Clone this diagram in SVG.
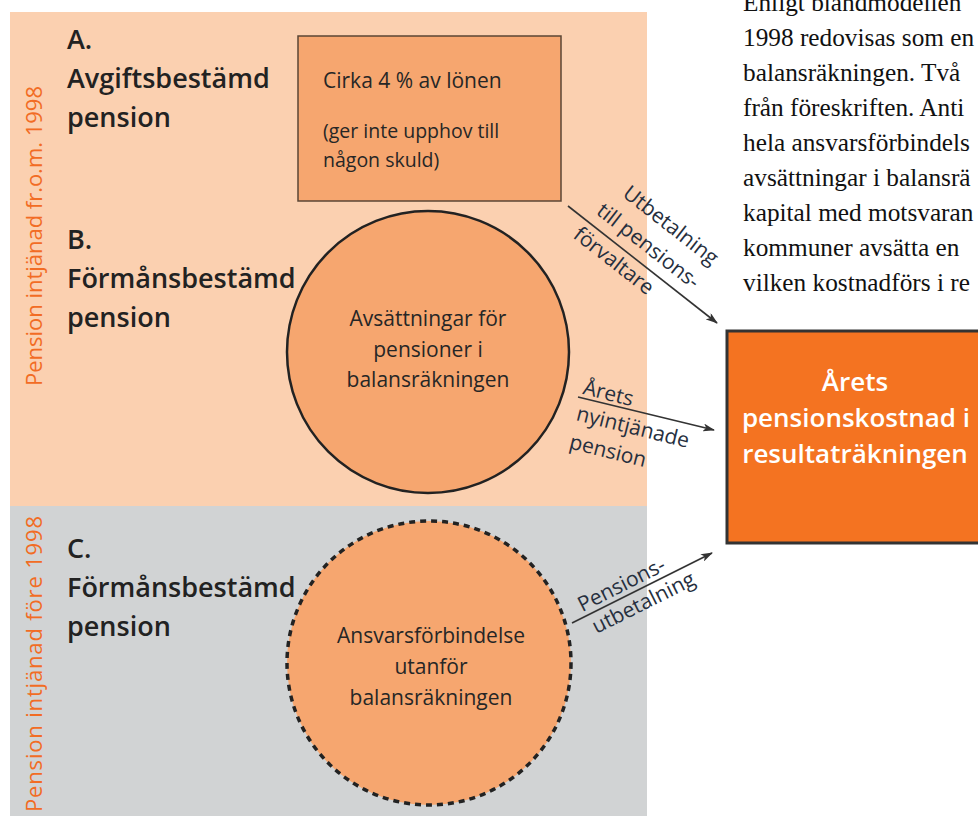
<svg xmlns="http://www.w3.org/2000/svg" width="978" height="816" viewBox="0 0 978 816">
<style>
.title{font-family:"Open Sans","Noto Sans",sans-serif;font-weight:600;font-size:27px;fill:#222}
.body{font-family:"Open Sans","Noto Sans",sans-serif;font-size:21px;fill:#262626}
.small{font-family:"Open Sans","Noto Sans",sans-serif;font-size:19.5px;fill:#262626}
.lab{font-family:"Open Sans","Noto Sans",sans-serif;font-size:21px;fill:#262f3e}
.vert{font-family:"Open Sans","Noto Sans",sans-serif;font-size:22px;font-weight:500;fill:#F26C24}
.serif{font-family:"Liberation Serif","Times New Roman",serif;font-size:25.3px;fill:#111}
.big{font-family:"Open Sans","Noto Sans",sans-serif;font-weight:600;font-size:26px;fill:#fff}
.conn{stroke:#333;stroke-width:1.6;fill:none}
</style>
<defs>
<marker id="ah" viewBox="0 0 12 8" refX="11" refY="4" markerWidth="12" markerHeight="8" markerUnits="userSpaceOnUse" orient="auto">
<path d="M0,0 L12,4 L0,8 L3,4 z" fill="#333"/>
</marker>
</defs>
<rect width="978" height="816" fill="#fff"/>
<g id="region-after">
<rect x="10" y="12" width="637" height="494" fill="#FBD0B0"/>
<text class="vert" transform="translate(42,236) rotate(-90)" text-anchor="middle" textLength="300">Pension intjänad fr.o.m. 1998</text>
</g>
<g id="region-before">
<rect x="10" y="506" width="637" height="310" fill="#D1D3D4"/>
<text class="vert" transform="translate(42,664) rotate(-90)" text-anchor="middle" textLength="296">Pension intjänad före 1998</text>
</g>
<g id="para">
<text class="serif" x="743">
<tspan x="743" y="11">Enligt blandmodellen</tspan>
<tspan x="743" y="46">1998 redovisas som en</tspan>
<tspan x="743" y="81">balansräkningen. Två</tspan>
<tspan x="743" y="116">från föreskriften. Anti</tspan>
<tspan x="743" y="151">hela ansvarsförbindels</tspan>
<tspan x="743" y="186">avsättningar i balansrä</tspan>
<tspan x="743" y="221">kapital med motsvaran</tspan>
<tspan x="743" y="256">kommuner avsätta en</tspan>
<tspan x="743" y="291">vilken kostnadförs i re</tspan>
</text>
</g>
<g id="label-A">
<text class="title" x="67" y="49">A.</text>
<text class="title" x="67" y="88">Avgiftsbestämd</text>
<text class="title" x="67" y="127">pension</text>
</g>
<g id="label-B">
<text class="title" x="67" y="249">B.</text>
<text class="title" x="67" y="288">Förmånsbestämd</text>
<text class="title" x="67" y="327">pension</text>
</g>
<g id="label-C">
<text class="title" x="67" y="558">C.</text>
<text class="title" x="67" y="597">Förmånsbestämd</text>
<text class="title" x="67" y="636">pension</text>
</g>
<g id="box-A">
<rect x="298" y="36" width="263" height="165" fill="#F6A66F" stroke="#5b4535" stroke-width="1.5"/>
<text class="body" x="323" y="88">Cirka 4 % av lönen</text>
<text class="small" x="323" y="138">(ger inte upphov till</text>
<text class="small" x="323" y="167">någon skuld)</text>
</g>
<g id="circle-B">
<circle cx="428" cy="352" r="141" fill="#F6A66F" stroke="#222" stroke-width="2.5"/>
<text class="body" x="428" y="326" text-anchor="middle">Avsättningar för</text>
<text class="body" x="428" y="357" text-anchor="middle">pensioner i</text>
<text class="body" x="428" y="387" text-anchor="middle">balansräkningen</text>
</g>
<g id="circle-C">
<circle cx="429" cy="663" r="142" fill="#F6A66F" stroke="#222" stroke-width="3.5" stroke-dasharray="6 5"/>
<text class="body" x="431" y="643" text-anchor="middle">Ansvarsförbindelse</text>
<text class="body" x="431" y="674" text-anchor="middle">utanför</text>
<text class="body" x="431" y="705" text-anchor="middle">balansräkningen</text>
</g>
<g id="cost-box">
<rect x="727" y="331" width="262" height="212" fill="#F47321" stroke="#333" stroke-width="3"/>
<text class="big" x="855" y="391" text-anchor="middle">Årets</text>
<text class="big" x="856" y="427" text-anchor="middle">pensionskostnad i</text>
<text class="big" x="855" y="463" text-anchor="middle">resultaträkningen</text>
</g>
<g id="connectors">
<line class="conn" x1="568" y1="206" x2="717" y2="323" marker-end="url(#ah)"/>
<line class="conn" x1="578" y1="397" x2="714" y2="430" marker-end="url(#ah)"/>
<line class="conn" x1="572" y1="623" x2="712" y2="553" marker-end="url(#ah)"/>
<g transform="translate(568,206) rotate(38)">
<text class="lab" x="93" y="-41" text-anchor="middle">Utbetalning</text>
<text class="lab" x="88" y="-11" text-anchor="middle">till pensions-</text>
<text class="lab" x="70" y="22" text-anchor="middle">förvaltare</text>
</g>
<g transform="translate(578,397) rotate(14)">
<text class="lab" x="3" y="-4">Årets</text>
<text class="lab" x="3" y="23">nyintjänade</text>
<text class="lab" x="3" y="52">pension</text>
</g>
<g transform="translate(572,623) rotate(-26.7)">
<text class="lab" x="14" y="-5">Pensions-</text>
<text class="lab" x="17" y="21">utbetalning</text>
</g>
</g>
</svg>
